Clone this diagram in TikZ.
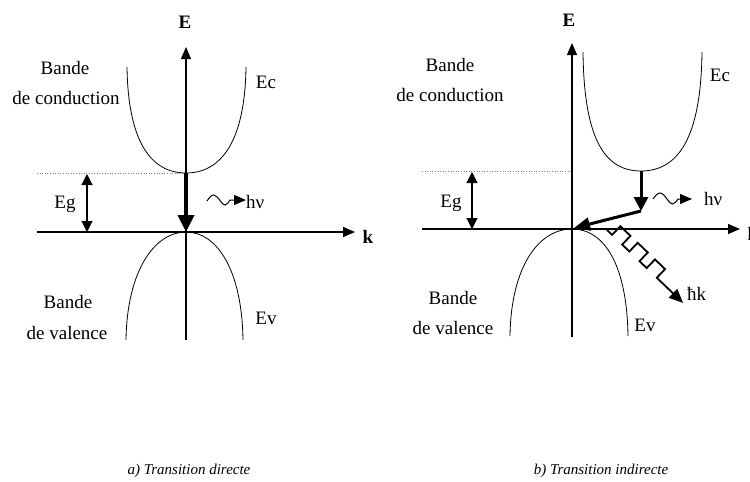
\documentclass[tikz,border=0pt]{standalone}
\usepackage{fontspec}
\setmainfont{Liberation Serif}
\usetikzlibrary{arrows.meta}
\begin{document}
\begin{tikzpicture}[x=1pt,y=-1pt,
  axis/.style={line width=1.1pt,-{Triangle[length=12pt,width=10pt]}},
  band/.style={line width=0.8pt},
  gaparrow/.style={line width=1.1pt,{Triangle[length=11pt,width=11pt]}-{Triangle[length=11pt,width=11pt]}},
  dotline/.style={line width=0.6pt,dotted,gray},
  photon/.style={line width=1pt,-{Triangle[length=12pt,width=10pt]}},
  lbl/.style={font=\fontsize{19}{22}\selectfont,inner sep=0pt},
  blbl/.style={font=\fontsize{19}{22}\selectfont\bfseries,inner sep=0pt},
  caption/.style={font=\fontsize{15}{17}\selectfont\itshape,inner sep=0pt}]
\useasboundingbox (0,0) rectangle (750,482);

% ---------- left panel ----------
\coordinate (aO) at (186,232);
\coordinate (aEtop) at (186,47);
\coordinate (aEbot) at (186,340);
\coordinate (aKl) at (37,232);
\coordinate (aKr) at (355,232);
\coordinate (aCmin) at (186,173);
\coordinate (aDl) at (37,173);
\draw[axis] (aEbot) -- (aEtop);
\draw[axis] (aKl) -- (aKr);
\draw[band] (127,67) .. controls (128,140) and (150,173) .. (aCmin)
  .. controls (222,173) and (245,140) .. (246,67);
\draw[band] (126,340) .. controls (127,270) and (155,232) .. (aO)
  .. controls (217,232) and (242,270) .. (243,340);
\draw[dotline] (aDl) -- (aCmin);
\coordinate (aG1) at (87,174);
\coordinate (aG2) at (87,232);
\draw[gaparrow] (aG1) -- (aG2);
\draw[line width=4pt,-{Triangle[length=17pt,width=16pt]}] (aCmin) -- (aO);
\draw[photon] (207,201) sin (213.5,195) cos (220,200.5) sin (225,205) cos (230,200) -- (246,200);

\node[blbl] (aE) at (185,22) {E};
\node[blbl] (ak) at (368,237) {k};
\node[lbl] (aBc) at (65,68) {Bande};
\node[lbl] (aDc) at (66,98) {de conduction};
\node[lbl] (aEc) at (266,82) {Ec};
\node[lbl] (aEg) at (65,204) {Eg};
\node[lbl,anchor=west] (ahv) at (246,202) {hν};
\node[lbl] (aBv) at (68,302) {Bande};
\node[lbl] (aDv) at (67,333) {de valence};
\node[lbl] (aEv) at (266,318) {Ev};
\node[caption] (aCap) at (189,471) {a) Transition directe};

% ---------- right panel ----------
\coordinate (bO) at (572,229);
\coordinate (bEtop) at (572,43);
\coordinate (bEbot) at (572,337);
\coordinate (bKl) at (422,229);
\coordinate (bKr) at (740,229);
\coordinate (bCmin) at (641,171);
\coordinate (bDl) at (422,171);
\draw[axis] (bEbot) -- (bEtop);
\draw[axis] (bKl) -- (bKr);
\draw[band] (583,52) .. controls (584,140) and (605,171) .. (bCmin)
  .. controls (677,171) and (701,140) .. (702,52);
\draw[band] (510,336) .. controls (511,266) and (539,229) .. (bO)
  .. controls (605,229) and (627,266) .. (628,336);
\draw[dotline] (bDl) -- (bO |- bDl);
\coordinate (bG1) at (472,172);
\coordinate (bG2) at (472,229);
\draw[gaparrow] (bG1) -- (bG2);
\coordinate (bMid) at (641,211);
\coordinate (bTip) at (574,228);
\draw[line width=3pt,-{Triangle[length=14pt,width=14pt]}] (bCmin) -- (641,211);
\draw[line width=3pt,-{Triangle[length=16pt,width=13pt]}] (bMid) -- (bTip);
\draw[photon] (653,199) sin (660,193) cos (667,199) sin (672.5,204) cos (678,199) -- (692,199);
\begin{scope}[shift={(607,230)},rotate=-43.8]
  \draw[line width=1.8pt,miter limit=4,-{Triangle[length=14pt,width=12pt]}]
    (0,0) -- (7,0) -- (7,-12) -- (21,-12) -- (21,0) -- (31,0) -- (31,-12)
    -- (45,-12) -- (45,0) -- (55,0) -- (55,-12) -- (69,-12) -- (69,0) -- (105.4,0);
\end{scope}

\node[blbl] (bE) at (569,20) {E};
\node[blbl] (bk) at (753,234) {k};
\node[lbl] (bBc) at (450,65) {Bande};
\node[lbl] (bDc) at (450,95) {de conduction};
\node[lbl] (bEc) at (720,75) {Ec};
\node[lbl] (bEg) at (451,203) {Eg};
\node[lbl,anchor=west] (bhv) at (704,199) {hν};
\node[lbl,anchor=west] (bhk) at (687,294) {ħk};
\node[lbl] (bBv) at (453,298) {Bande};
\node[lbl] (bDv) at (453,328) {de valence};
\node[lbl] (bEv) at (645,325) {Ev};
\node[caption] (bCap) at (601,471) {b) Transition indirecte};
\end{tikzpicture}
\end{document}
